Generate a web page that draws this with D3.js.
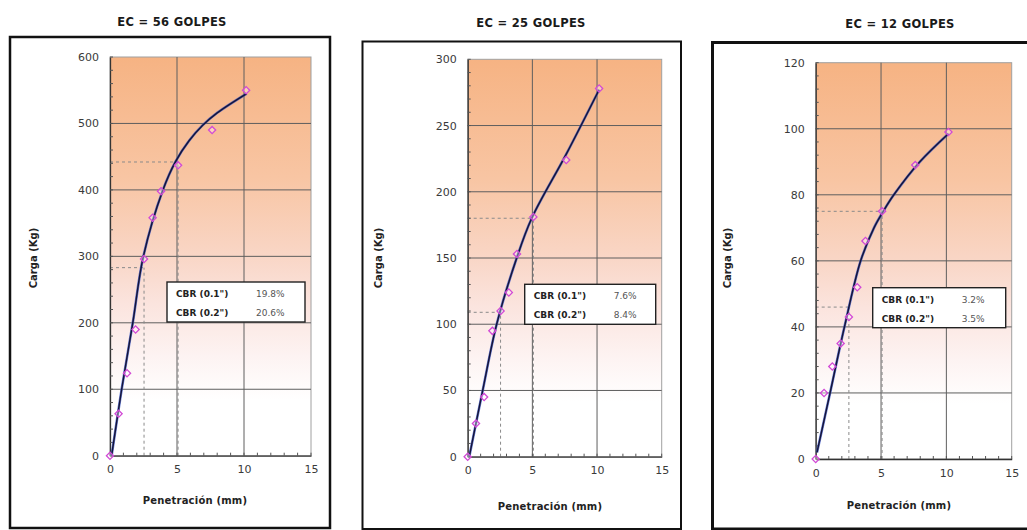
<!DOCTYPE html>
<html>
<head>
<meta charset="utf-8">
<script src="https://cdn.jsdelivr.net/npm/d3@7"></script>
<style>
  html, body { margin: 0; padding: 0; background: #ffffff; }
  svg { display: block; font-family: "DejaVu Sans", "Liberation Sans", Arial, sans-serif; }
</style>
</head>
<body>
<svg id="chart" width="1027" height="530"></svg>
<script>
// Penetración estándar (mm) de las lecturas de carga
const penetracion = [0, 0.64, 1.27, 1.91, 2.54, 3.18, 3.81, 5.08, 7.62, 10.16];

// Carga medida (Kg) para cada energía de compactación
const carga56 = [0, 63, 124, 190, 296, 358, 398, 437, 490, 550];
const carga25 = [0, 25, 45, 95, 110, 124, 153, 181, 224, 278];
const carga12 = [0, 20, 28, 35, 43, 52, 66, 75, 89, 99];

const curvaPen56   = [0.12, 0.87, 1.7, 2.49, 3.95, 4.9, 5.9, 6.9, 8.0, 10.2];
const curvaCarga56 = [0, 100, 200, 300, 400, 443, 474, 497, 516, 545];
const curvaPen25   = [0.12, 1.16, 2.24, 3.79, 4.95, 7.6, 10.16];
const curvaCarga25 = [0, 50, 100, 150, 180, 228, 277];
const curvaPen12   = [0.1, 1.1, 2.2, 3.44, 4.46, 5.17, 5.98, 7.97, 10.16];
const curvaCarga12 = [2, 20, 40, 60, 70, 75, 80, 90, 98.5];

// Cargas en 0.1" (2.54 mm) y 0.2" (5.08 mm) usadas para el CBR
const penCBR = [2.54, 5.08];
const cargaCBR56 = [283, 442];
const cargaCBR25 = [109, 180];
const cargaCBR12 = [46, 75];

// Resultados CBR
const cbrEtiquetas = ['CBR (0.1")', 'CBR (0.2")'];
const cbr56 = ["19.8%", "20.6%"];
const cbr25 = ["7.6%", "8.4%"];
const cbr12 = ["3.2%", "3.5%"];

// Títulos y ejes
const titulos = ["EC = 56 GOLPES", "EC = 25 GOLPES", "EC = 12 GOLPES"];
const yMax = [600, 300, 120];
const yTicks = [[0, 100, 200, 300, 400, 500, 600], [0, 50, 100, 150, 200, 250, 300], [0, 20, 40, 60, 80, 100, 120]];
const xTicks = [0, 5, 10, 15];

const svg = d3.select("#chart");
const fuente = "DejaVu Sans, Liberation Sans, Arial, sans-serif";

// Degradado naranja del área de trazado
const defs = svg.append("defs");
const grad = defs.append("linearGradient").attr("id", "fondo").attr("x1", 0).attr("y1", 0).attr("x2", 0).attr("y2", 1);
[[0, "#f6b383"], [0.3, "#f8c5a3"], [0.5, "#f9d6c6"], [0.62, "#fbe4de"], [0.75, "#fdf3f2"], [0.86, "#ffffff"], [1, "#ffffff"]]
  .forEach(([o, c]) => grad.append("stop").attr("offset", o).attr("stop-color", c));

const paneles = [
  { frame: [10, 37, 330, 528], plot: [110, 57, 311, 455.7], titleX: 172, titleY: 26, yLabX: 33, xLabX: 195, xLabY: 504,
    curvaX: curvaPen56, curvaY: curvaCarga56, datos: carga56, cbrCarga: cargaCBR56, cbr: cbr56, frameW: 2.5 },
  { frame: [362.5, 41.5, 681, 529], plot: [467.7, 59.3, 661.7, 456.7], titleX: 531, titleY: 27, yLabX: 378, xLabX: 550, xLabY: 510,
    curvaX: curvaPen25, curvaY: curvaCarga25, datos: carga25, cbrCarga: cargaCBR25, cbr: cbr25, frameW: 2 },
  { frame: [712.5, 42.5, 1040, 529], plot: [815.7, 62.7, 1011.7, 459], titleX: 900, titleY: 28, yLabX: 727, xLabX: 899, xLabY: 509,
    curvaX: curvaPen12, curvaY: curvaCarga12, datos: carga12, cbrCarga: cargaCBR12, cbr: cbr12, frameW: 3 }
];

paneles.forEach((p, i) => {
  const [fx0, fy0, fx1, fy1] = p.frame;
  const [px0, py0, px1, py1] = p.plot;
  const g = svg.append("g");

  // Título
  g.append("text").attr("x", p.titleX).attr("y", p.titleY).attr("text-anchor", "middle")
    .attr("font-size", 11.5).attr("font-weight", "bold").attr("letter-spacing", 0.3)
    .attr("fill", "#1a1a1a").text(titulos[i]);

  // Marco del gráfico
  g.append("rect").attr("x", fx0).attr("y", fy0).attr("width", fx1 - fx0).attr("height", fy1 - fy0)
    .attr("fill", "none").attr("stroke", "#111").attr("stroke-width", p.frameW);

  const x = d3.scaleLinear().domain([0, 15]).range([px0, px1]);
  const y = d3.scaleLinear().domain([0, yMax[i]]).range([py1, py0]);

  // Fondo
  g.append("rect").attr("x", px0).attr("y", py0).attr("width", px1 - px0).attr("height", py1 - py0)
    .attr("fill", "url(#fondo)").attr("stroke", "#a0a0a0").attr("stroke-width", 1);

  // Cuadrícula principal
  g.append("g").selectAll("line").data(xTicks.slice(1, -1)).join("line")
    .attr("x1", d => x(d)).attr("x2", d => x(d)).attr("y1", py0).attr("y2", py1)
    .attr("stroke", "#5e5e5e").attr("stroke-width", 1);
  g.append("g").selectAll("line").data(yTicks[i].slice(1, -1)).join("line")
    .attr("x1", px0).attr("x2", px1).attr("y1", d => y(d)).attr("y2", d => y(d))
    .attr("stroke", "#5e5e5e").attr("stroke-width", 1);

  // Líneas de referencia del CBR (punteadas)
  penCBR.forEach((pc, k) => {
    g.append("line").attr("x1", x(pc)).attr("x2", x(pc)).attr("y1", py1).attr("y2", y(p.cbrCarga[k]))
      .attr("stroke", "#8a8a8a").attr("stroke-width", 1).attr("stroke-dasharray", "3,3");
    g.append("line").attr("x1", px0).attr("x2", x(pc)).attr("y1", y(p.cbrCarga[k])).attr("y2", y(p.cbrCarga[k]))
      .attr("stroke", "#8a8a8a").attr("stroke-width", 1).attr("stroke-dasharray", "3,3");
  });

  // Ejes
  const axY = g.append("g").attr("transform", `translate(${px0},0)`)
    .call(d3.axisLeft(y).tickValues(yTicks[i]).tickSize(0).tickPadding(11).tickFormat(d3.format("d")));
  const axX = g.append("g").attr("transform", `translate(0,${py1})`)
    .call(d3.axisBottom(x).tickValues(xTicks).tickSize(0).tickPadding(10));
  [axY, axX].forEach(a => {
    a.select(".domain").attr("stroke", "#333").attr("stroke-width", 1.3);
    a.selectAll("text").attr("font-size", 11).attr("fill", "#3a3a3a").attr("font-family", fuente);
  });

  // Marcas menores
  const yStep = yTicks[i][1] / 5;
  const yMinor = d3.range(0, yMax[i] + 1e-9, yStep);
  g.append("g").selectAll("line").data(yMinor).join("line")
    .attr("x1", px0).attr("x2", px0 + 3).attr("y1", d => y(d)).attr("y2", d => y(d))
    .attr("stroke", "#555").attr("stroke-width", 1);
  g.append("g").selectAll("line").data(d3.range(0, 16, 1)).join("line")
    .attr("x1", d => x(d)).attr("x2", d => x(d)).attr("y1", py1).attr("y2", py1 - 3)
    .attr("stroke", "#555").attr("stroke-width", 1);

  // Curva de ajuste
  const curva = p.curvaX.map((v, k) => [v, p.curvaY[k]]);
  const linea = d3.line().x(d => x(d[0])).y(d => y(d[1])).curve(d3.curveCatmullRom.alpha(0.5));
  g.append("path").datum(curva).attr("d", linea).attr("fill", "none")
    .attr("stroke", "#3a55c8").attr("stroke-width", 2.6).attr("stroke-opacity", 0.75);
  g.append("path").datum(curva).attr("d", linea).attr("fill", "none")
    .attr("stroke", "#15153a").attr("stroke-width", 1.5);

  // Puntos medidos
  const simbolo = d3.symbol().type(d3.symbolSquare).size(26);
  g.append("g").selectAll("path").data(penetracion.map((v, k) => [v, p.datos[k]])).join("path")
    .attr("d", simbolo).attr("transform", d => `translate(${x(d[0])},${y(d[1])}) rotate(45)`)
    .attr("fill", "rgba(255,255,255,0.35)").attr("stroke", "#d24ad6").attr("stroke-width", 1.3);

  // Cuadro de resultados CBR
  const bx = px0 + 57, by = py0 + 225, bw = (px1 - px0) - 63, bh = 40;
  g.append("rect").attr("x", bx).attr("y", by).attr("width", bw).attr("height", bh)
    .attr("fill", "#ffffff").attr("stroke", "#222").attr("stroke-width", 1.4);
  cbrEtiquetas.forEach((t, k) => {
    g.append("text").attr("x", px0 + 66).attr("y", by + 15 + k * 19)
      .attr("font-size", 9).attr("font-weight", "bold").attr("fill", "#222").text(t);
    g.append("text").attr("x", px0 + 146).attr("y", by + 15 + k * 19)
      .attr("font-size", 9).attr("fill", "#555").text(p.cbr[k]);
  });

  // Títulos de ejes
  g.append("text").attr("transform", `translate(${p.yLabX},258) rotate(-90)`).attr("text-anchor", "middle")
    .attr("dy", "0.35em").attr("font-size", 10).attr("font-weight", "bold").attr("fill", "#222").text("Carga (Kg)");
  g.append("text").attr("x", p.xLabX).attr("y", p.xLabY).attr("text-anchor", "middle")
    .attr("font-size", 10).attr("font-weight", "bold").attr("letter-spacing", 0.2)
    .attr("fill", "#222").text("Penetración (mm)");
});
</script>
</body>
</html>
